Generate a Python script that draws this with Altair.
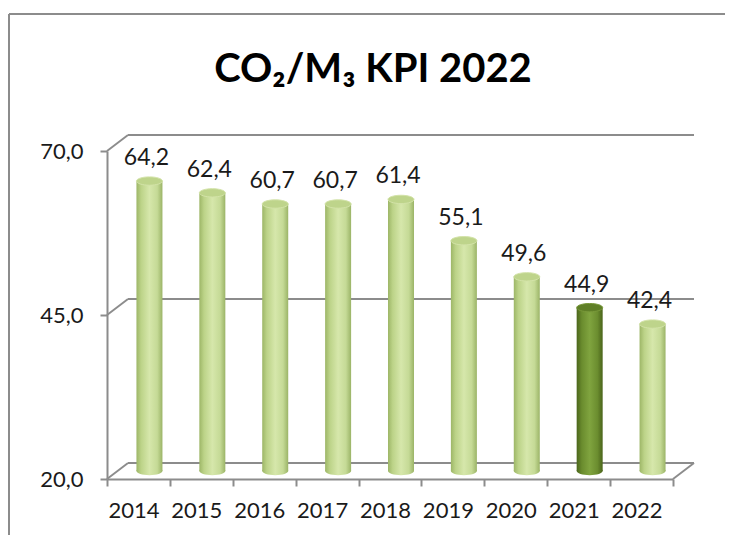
import altair as alt
import pandas as pd

# ---- data ----
years = ["2014", "2015", "2016", "2017", "2018", "2019", "2020", "2021", "2022"]
values = [64.2, 62.4, 60.7, 60.7, 61.4, 55.1, 49.6, 44.9, 42.4]
highlight = ["no", "no", "no", "no", "no", "no", "no", "yes", "no"]
y_ticks = [20, 45, 70]
title_text = "CO₂/M₃ KPI 2022"

df = pd.DataFrame({"year": years, "value": values, "hl": highlight})
df["label"] = [f"{v:.1f}".replace(".", ",") for v in values]
grid = pd.DataFrame({"v": y_ticks})
floor = pd.DataFrame({"v": [y_ticks[0]]})
one = pd.DataFrame({"a": [0]})

# ---- layout / style ----
W, H = 566, 328
DX, DY = 21, -16          # depth of the 3D box
BX, BY = 11, -8           # bars sit mid-depth
FONT = "Lato"
GRAY = "#8c8c8c"

x_enc = alt.X(
    "year:N",
    scale=alt.Scale(domain=years, paddingInner=0, paddingOuter=0),
    axis=alt.Axis(
        title=None, labelAngle=0, tickBand="extent", labelOffset=-5,
        labelPadding=14, tickSize=7, tickWidth=2, tickColor=GRAY,
        domainColor=GRAY, domainWidth=2, labelFont=FONT, labelFontSize=22,
        labelColor="#1a1a1a",
    ),
)
y_scale = alt.Scale(domain=[20, 70], zero=False, nice=False)
y_axis = alt.Axis(
    title=None, values=y_ticks, tickSize=7, tickWidth=2, tickColor=GRAY,
    domainColor=GRAY, domainWidth=2, labelPadding=17, labelFont=FONT,
    labelFontSize=22, labelColor="#1a1a1a", grid=False,
    labelExpr="replace(format(datum.value, '.1f'), '.', ',')",
)

light_grad = alt.LinearGradient(
    gradient="linear", x1=0, x2=1, y1=0, y2=0,
    stops=[
        alt.GradientStop(color="#9db667", offset=0),
        alt.GradientStop(color="#bcd388", offset=0.18),
        alt.GradientStop(color="#d6e7ab", offset=0.5),
        alt.GradientStop(color="#c5da96", offset=0.8),
        alt.GradientStop(color="#9bb467", offset=1),
    ],
)
dark_grad = alt.LinearGradient(
    gradient="linear", x1=0, x2=1, y1=0, y2=0,
    stops=[
        alt.GradientStop(color="#4b661b", offset=0),
        alt.GradientStop(color="#6a8c2e", offset=0.2),
        alt.GradientStop(color="#80a43f", offset=0.5),
        alt.GradientStop(color="#6b8d2f", offset=0.8),
        alt.GradientStop(color="#4a641a", offset=1),
    ],
)
ELLIPSE = "M -1 0 A 1 0.32 0 1 1 1 0 A 1 0.32 0 1 1 -1 0 Z"

# ---- frame border ----
border_top = alt.Chart(one).mark_rule(color=GRAY, strokeWidth=2).encode(
    x=alt.value(-98), x2=alt.value(W + 60), y=alt.value(-137)
)
border_left = alt.Chart(one).mark_rule(color=GRAY, strokeWidth=2).encode(
    x=alt.value(-98), y=alt.value(-137), y2=alt.value(H + 60)
)

# ---- 3D walls ----
back_grid = alt.Chart(grid).mark_rule(
    color=GRAY, strokeWidth=2, xOffset=DX, x2Offset=DX, yOffset=DY, y2Offset=DY
).encode(y=alt.Y("v:Q", scale=y_scale, axis=y_axis), x=alt.value(0), x2=alt.value(W))

left_conn = alt.Chart(grid).mark_rule(
    color=GRAY, strokeWidth=2, x2Offset=DX, y2Offset=DY
).encode(y=alt.Y("v:Q", scale=y_scale, axis=y_axis), y2="v:Q",
         x=alt.value(0), x2=alt.value(0))

right_conn = alt.Chart(floor).mark_rule(
    color=GRAY, strokeWidth=2, x2Offset=DX, y2Offset=DY
).encode(y=alt.Y("v:Q", scale=y_scale, axis=y_axis), y2="v:Q",
         x=alt.value(W), x2=alt.value(W))

# ---- cylinders ----
def cylinders(flag, grad, top_fill, top_stroke):
    base = alt.Chart(df).transform_filter(alt.datum.hl == flag)
    bottom = base.mark_point(
        shape=ELLIPSE, size=26 * 26, filled=True, fill=grad, opacity=1,
        strokeWidth=0, xOffset=BX, yOffset=BY,
    ).encode(x=x_enc, y=alt.Y(datum=20, scale=y_scale, axis=y_axis))
    body = base.mark_bar(
        size=26, color=grad, xOffset=BX, yOffset=BY, y2Offset=BY
    ).encode(x=x_enc, y=alt.Y("value:Q", scale=y_scale, axis=y_axis), y2=alt.datum(20))
    top = base.mark_point(
        shape=ELLIPSE, size=26 * 26, filled=True, fill=top_fill, opacity=1,
        stroke=top_stroke, strokeWidth=1, xOffset=BX, yOffset=BY,
    ).encode(x=x_enc, y=alt.Y("value:Q", scale=y_scale, axis=y_axis))
    return [bottom, body, top]

light = cylinders("no", light_grad, "#bed48b", "#d3e3a8")
dark = cylinders("yes", dark_grad, "#5f7f27", "#79993a")

labels = alt.Chart(df).mark_text(
    dx=8, dy=-24, baseline="alphabetic", align="center",
    font=FONT, fontSize=23, color="#1a1a1a",
).encode(x=x_enc, y=alt.Y("value:Q", scale=y_scale, axis=y_axis), text="label:N")

title = alt.Chart(one).mark_text(
    text=title_text, font=FONT, fontSize=40, fontWeight="bold",
    align="center", baseline="alphabetic", color="#000000",
).encode(x=alt.value(266), y=alt.value(-69))

chart = alt.layer(
    border_top, border_left, back_grid, left_conn, right_conn,
    *light, *dark, labels, title,
).properties(
    width=W, height=H,
    autosize=alt.AutoSizeParams(type="none"),
    padding={"left": 99, "top": 143, "right": 52, "bottom": 56},
    background="white",
).configure_view(stroke=None)

chart.save("out.html", embed_options={"renderer": "svg", "actions": False})
